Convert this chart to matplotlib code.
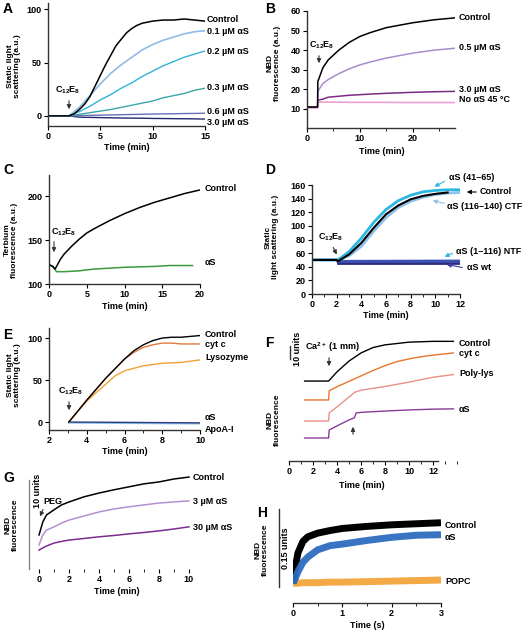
#### Workspace setup ####
import matplotlib
matplotlib.use("Agg")
import matplotlib.pyplot as plt
from matplotlib.patches import FancyArrowPatch
from matplotlib.lines import Line2D
from matplotlib.ticker import MultipleLocator

plt.rcParams["font.family"] = ["Liberation Sans", "DejaVu Sans"]
plt.rcParams["font.weight"] = "bold"
plt.rcParams["font.size"] = 6.5
plt.rcParams["mathtext.fontset"] = "custom"
plt.rcParams["mathtext.rm"] = "Liberation Sans:bold"
plt.rcParams["mathtext.bf"] = "Liberation Sans:bold"
plt.rcParams["mathtext.it"] = "Liberation Sans:bold"
plt.rcParams["mathtext.default"] = "bf"

#### Data ####
# A: static light scattering vs time, aS titration
a_t_ctrl = [0, 2, 2.5, 3, 3.5, 4, 4.5, 5, 5.5, 6, 6.5, 7, 7.5, 8, 8.5, 9, 10, 11, 12, 13, 14, 15]
a_control = [0, 0, 2, 6, 11, 18, 28, 38, 48, 57, 66, 72, 78, 82, 85, 87, 89, 90, 90, 91, 90, 89]
a_t = [0, 2, 3, 4, 5, 6, 7, 8, 9, 10, 11, 12, 13, 14, 15]
a_01 = [0, 0, 8, 19, 30, 40, 48, 55, 62, 67, 71, 74, 77, 79, 80]
a_02 = [0, 0, 4, 9, 15, 20, 26, 31, 37, 42, 47, 51, 55, 58, 61]
a_03 = [0, 0, 1.5, 3, 4.5, 6, 8, 10, 12, 14, 17, 19, 21, 24, 26]
a_06 = [0, 0, 0.3, 0.5, 0.7, 0.9, 1.1, 1.3, 1.5, 1.7, 1.9, 2.0, 2.2, 2.3, 2.5]
a_30 = [0, 0, -1.2, -1.4, -1.6, -1.8, -2.0, -2.1, -2.2, -2.4, -2.5, -2.6, -2.7, -2.8, -3.0]

# B: NBD fluorescence
b_t = [0, 2, 2.05, 3, 4, 6, 8, 10, 12, 15, 18, 20, 24, 28]
b_control = [11, 11, 24, 31, 35, 40, 44, 47, 49, 51.5, 53, 54, 55.5, 56.5]
b_05 = [11, 11, 19, 23, 25, 28, 30.5, 32.5, 34, 36, 37.5, 38.5, 40, 41]
b_30 = [11, 11, 14.5, 15, 16, 16.5, 17, 17.3, 17.6, 18, 18.3, 18.5, 18.8, 19]
b_noas = [10.5, 10.5, 13.5, 13.5, 13.5, 13.5, 13.4, 13.4, 13.4, 13.4, 13.3, 13.3, 13.3, 13.3]

# C: terbium fluorescence
c_t_ctrl = [0, 0.5, 0.8, 1, 1.5, 2, 3, 4, 5, 6, 8, 10, 12, 14, 16, 18, 20]
c_control = [122, 120, 117, 120, 128, 134, 143, 151, 158, 163, 172, 180, 187, 193, 198, 203, 207]
c_t_as = [0, 0.5, 1, 2, 4, 6, 8, 10, 12, 14, 16, 19]
c_as = [122, 120, 114, 114, 115, 117, 118, 119, 119.5, 120, 121, 121]

# D: static light scattering, aS fragments
d_t = [0, 2, 2.1, 3, 4, 5, 6, 7, 8, 9, 10, 11, 12]
d_41_65 = [50, 50, 50, 62, 82, 105, 124, 137, 145, 150, 152, 153, 153]
d_ctf = [50, 50, 50, 56, 70, 92, 112, 127, 136, 142, 146, 148, 149]
d_t_ctrl = [0, 2, 2.1, 3, 4, 5, 6, 7, 8, 9, 10, 11]
d_control = [50, 50, 48, 58, 75, 97, 117, 130, 139, 144, 147, 149]
d_t_flat = [2.1, 12]
d_ntf = [48, 48.5]
d_wt = [46, 46]

# E: static light scattering, other proteins
e_t_ctrl = [3.05, 4, 5, 6, 6.5, 7, 7.5, 8, 8.5, 9, 9.5, 10]
e_control = [0, 26, 52, 75, 85, 92, 97, 100, 101, 101, 102, 103]
e_cytc = [0, 26, 52, 75, 83, 89, 92, 94, 94, 93, 93, 93]
e_t_lys = [3.05, 4, 5, 5.5, 6, 7, 8, 9, 10]
e_lys = [0, 25, 45, 55, 61, 67, 70, 71, 74]
e_t_flat = [3.05, 10]
e_as = [0, -1]
e_apoa = [-1, -2]

# F: NBD fluorescence, Ca2+ triggered (offset traces, units)
f_t_ctrl = [1.3, 3.3, 4, 5, 6, 7, 8, 9, 10, 12, 13.7]
f_control = [29.6, 29.6, 33, 37, 40, 42, 43, 43.5, 44, 44.3, 44.3]
f_t_cytc = [1.3, 3.3, 3.35, 4, 5, 6, 7, 8, 9, 10, 11, 12, 13.7]
f_cytc = [22.6, 22.6, 26, 27.5, 29.5, 31.5, 33.5, 35.3, 36.8, 37.8, 38.6, 39.2, 40]
f_t_plys = [1.3, 3.3, 3.35, 4, 5, 5.5, 6, 8, 10, 12, 13.7]
f_plys = [14.8, 14.8, 17.8, 20, 23.7, 25.5, 26.2, 27.6, 29.2, 31, 32]
f_t_as = [1.3, 3.3, 3.35, 4, 5, 5.45, 5.6, 6, 8, 10, 12, 13.7]
f_as = [8.5, 8.5, 11.5, 13, 15.2, 16, 17.8, 18, 18.5, 18.9, 19.2, 19.3]

# G: NBD fluorescence, PEG triggered
g_t = [0, 0.25, 0.5, 1, 1.5, 2, 3, 4, 5, 6, 7, 8, 9, 10]
g_control = [12.6, 17.4, 20, 21.9, 23.7, 24.8, 26.7, 28.1, 29.3, 30.4, 31.5, 32.2, 33.3, 34]
g_3 = [8.9, 12.6, 14.4, 15.6, 17, 18.1, 19.6, 21.1, 22.2, 23, 23.7, 24.4, 24.8, 25.2]
g_30 = [7, 7.8, 8.5, 9.6, 10.2, 10.7, 11.3, 11.9, 12.4, 13, 13.5, 14.1, 14.8, 15.6]

# H: NBD fluorescence, stopped flow (s)
h_t = [0, 0.05, 0.1, 0.2, 0.3, 0.5, 0.75, 1, 1.5, 2, 2.5, 3]
h_control = [0.038, 0.07, 0.096, 0.118, 0.127, 0.134, 0.139, 0.143, 0.147, 0.15, 0.152, 0.154]
h_as = [0.038, 0.048, 0.06, 0.078, 0.088, 0.102, 0.11, 0.113, 0.12, 0.126, 0.13, 0.131]
h_popc = [0.038, 0.038, 0.038, 0.039, 0.039, 0.039, 0.040, 0.040, 0.041, 0.042, 0.043, 0.044]

#### Figure helpers (pixel layout, origin top-left) ####
W, H = 524, 631
fig = plt.figure(figsize=(W / 100, H / 100), dpi=100)


def px_axes(x0, x1, y0, y1):
    ax = fig.add_axes([x0 / W, 1 - y1 / H, (x1 - x0) / W, (y1 - y0) / H])
    for side in ("top", "right"):
        ax.spines[side].set_visible(False)
    for side in ("left", "bottom"):
        ax.spines[side].set_linewidth(1.0)
        ax.spines[side].set_color("#333333")
    ax.tick_params(direction="out", length=3, width=0.8, pad=1.5, labelsize=6.5)
    ax.tick_params(which="minor", length=2, width=0.6)
    ax.patch.set_alpha(0)
    return ax


def ftext(x, y, s, **kw):
    kw.setdefault("va", "center")
    kw.setdefault("ha", "left")
    fig.text(x / W, 1 - y / H, s, **kw)


def arrow(x0, y0, x1, y1, color="#333333"):
    fig.add_artist(FancyArrowPatch((x0 / W, 1 - y0 / H), (x1 / W, 1 - y1 / H),
                                   transform=fig.transFigure, arrowstyle="-|>",
                                   mutation_scale=6, lw=0.8, color=color))


def vbar(x, y0, y1, color="#333333", lw=1.0):
    fig.add_artist(Line2D([x / W, x / W], [1 - y0 / H, 1 - y1 / H],
                          transform=fig.transFigure, color=color, lw=lw))


def ylabel(x, y, s):
    ftext(x, y, s, rotation=90, ha="center", linespacing=1.15, fontsize=6)


C12E8 = "C$_{12}$E$_{8}$"

#### Panel A ####
ax = px_axes(48, 205, 3, 126)
ax.plot(a_t, a_30, color="#232a6e", lw=1)
ax.plot(a_t, a_06, color="#6670b4", lw=1)
ax.plot(a_t, a_03, color="#3aa6a6", lw=1)
ax.plot(a_t, a_02, color="#2fb3d8", lw=1)
ax.plot(a_t, a_01, color="#8dbbe6", lw=1.2)
ax.plot(a_t_ctrl, a_control, color="black", lw=1.1)
ax.set_xlim(0, 15)
ax.set_ylim(-9.5, 106)
ax.set_xticks([0, 5, 10, 15])
ax.set_yticks([0, 50, 100])
ftext(3, 9, "A", fontsize=10)
ylabel(14, 66, "Static light\nscattering (a.u.)")
ftext(127, 148, "Time (min)", ha="center")
ftext(55, 90, C12E8)
arrow(69, 98, 69, 112)
for y, s in [(20, "Control"), (31, "0.1 µM αS"), (52, "0.2 µM αS"),
             (88, "0.3 µM αS"), (112, "0.6 µM αS"), (122, "3.0 µM αS")]:
    ftext(207, y, s)

#### Panel B ####
ax = px_axes(307, 455, 11, 128)
ax.plot(b_t, b_noas, color="#eaa2d4", lw=1.2)
ax.plot(b_t, b_30, color="#7b2c82", lw=1.1)
ax.plot(b_t, b_05, color="#a98ccc", lw=1.1)
ax.plot(b_t, b_control, color="black", lw=1.1)
ax.set_xlim(0, 28)
ax.set_ylim(0.3, 60)
ax.set_xticks([0, 10, 20])
ax.xaxis.set_minor_locator(MultipleLocator(5))
ax.set_yticks([10, 20, 30, 40, 50, 60])
ftext(265, 9, "B", fontsize=10)
ylabel(274, 63, "NBD\nfluorescence (a.u.)")
ftext(382, 152, "Time (min)", ha="center")
ftext(309, 45, C12E8)
arrow(319, 53, 319, 66)
for y, s in [(17, "Control"), (48, "0.5 µM αS"), (90, "3.0 µM αS"), (100, "No αS 45 °C")]:
    ftext(459, y, s)

#### Panel C ####
ax = px_axes(49, 200, 175, 284)
ax.plot(c_t_as, c_as, color="#3c9a3c", lw=1.1)
ax.plot(c_t_ctrl, c_control, color="black", lw=1.1)
ax.set_xlim(0, 20)
ax.set_ylim(100, 224)
ax.set_xticks([0, 5, 10, 15, 20])
ax.set_yticks([100, 150, 200])
ftext(3, 170, "C", fontsize=10)
ylabel(11, 240, "Terbium\nfluorescence (a.u.)")
ftext(125, 307, "Time (min)", ha="center")
ftext(51, 232, C12E8)
arrow(54, 239, 54, 255)
ftext(205, 189, "Control")
ftext(205, 263, "αS")

#### Panel D ####
ax = px_axes(312, 460, 185, 294)
ax.plot(d_t_flat, d_wt, color="#2a2c82", lw=2)
ax.plot(d_t_flat, d_ntf, color="#3a52b4", lw=2)
ax.plot(d_t, d_ctf, color="#92c2ea", lw=2)
ax.plot(d_t, d_41_65, color="#2cb6e2", lw=2)
ax.plot(d_t_ctrl, d_control, color="black", lw=1.5)
ax.set_xlim(0, 12)
ax.set_ylim(0, 160)
ax.set_xticks([0, 2, 4, 6, 8, 10, 12])
ax.xaxis.set_minor_locator(MultipleLocator(1))
ax.set_yticks(range(0, 161, 20))
ftext(265, 170, "D", fontsize=10)
ylabel(272, 237, "Static\nlight scattering (a.u.)")
ftext(386, 316, "Time (min)", ha="center")
ftext(318, 237, C12E8)
arrow(332, 245, 338, 257)
ftext(449, 177, "αS (41–65)")
arrow(447, 180, 432, 188, "#2cb6e2")
ftext(480, 192, "Control")
arrow(479, 192, 464, 192, "black")
ftext(447, 206, "αS (116–140) CTF")
arrow(447, 204, 430, 200, "#92c2ea")
ftext(456, 252, "αS (1–116) NTF")
arrow(455, 252, 442, 258, "#2cb6e2")
ftext(467, 268, "αS wt")
arrow(465, 268, 444, 264, "#3a3aa0")

#### Panel E ####
ax = px_axes(49, 200, 328, 430)
ax.plot(e_t_flat, e_apoa, color="#8cc4e6", lw=1.2)
ax.plot(e_t_flat, e_as, color="#2f3a82", lw=1.0)
ax.plot(e_t_lys, e_lys, color="#f2a234", lw=1.0)
ax.plot(e_t_ctrl, e_cytc, color="#e4783e", lw=1.0)
ax.plot(e_t_ctrl, e_control, color="black", lw=1.0)
ax.set_xlim(2, 10)
ax.set_ylim(-9.5, 112)
ax.set_xticks([2, 4, 6, 8, 10])
ax.xaxis.set_minor_locator(MultipleLocator(1))
ax.set_yticks([0, 50, 100])
ftext(3, 335, "E", fontsize=10)
ylabel(14, 375, "Static light\nscattering (a.u.)")
ftext(125, 452, "Time (min)", ha="center")
ftext(58, 391, C12E8)
arrow(69, 399, 69, 413)
for y, s in [(334, "Control"), (344, "cyt c"), (357, "Lysozyme"), (418, "αS"), (429, "ApoA-I")]:
    ftext(205, y, s)

#### Panel F ####
ax = px_axes(289, 457, 330, 461)
ax.plot(f_t_as, f_as, color="#8a3a9c", lw=1.0)
ax.plot(f_t_plys, f_plys, color="#ea8e88", lw=1.0)
ax.plot(f_t_cytc, f_cytc, color="#e8762c", lw=1.0)
ax.plot(f_t_ctrl, f_control, color="black", lw=1.0)
ax.set_xlim(0, 14)
ax.set_ylim(0, 48.5)
ax.spines["left"].set_visible(False)
ax.spines["bottom"].set_bounds(0, 12.4)
ax.set_yticks([])
ax.set_xticks([0, 2, 4, 6, 8, 10, 12])
ax.xaxis.set_minor_locator(MultipleLocator(1))
ftext(265, 343, "F", fontsize=10)
ylabel(274, 420, "NBD\nfluorescence")
ftext(362, 486, "Time (min)", ha="center")
ftext(305, 347, "Ca$^{2+}$ (1 mm)")
arrow(329, 355, 329, 369)
arrow(353, 437, 353, 424)
vbar(290, 346, 359)
ftext(297, 349, "10 units", rotation=90, ha="center")
for y, s in [(343, "Control"), (353, "cyt c"), (374, "Poly-lys"), (410, "αS")]:
    ftext(459, y, s)

#### Panel G ####
ax = px_axes(29, 190, 476, 569)
ax.plot(g_t, g_30, color="#7b2c8c", lw=1.1)
ax.plot(g_t, g_3, color="#b490d2", lw=1.1)
ax.plot(g_t, g_control, color="black", lw=1.1)
ax.set_xlim(-0.67, 10.07)
ax.set_ylim(0, 34.4)
ax.spines["bottom"].set_visible(False)
ax.spines["left"].set_bounds(0, 33)
ax.spines["left"].set_color("#888888")
ax.set_yticks([])
ax.tick_params(axis="y", length=0)
ax.set_xticks([0, 2, 4, 6, 8, 10])
ax.xaxis.set_minor_locator(MultipleLocator(1))
ftext(3, 478, "G", fontsize=10)
ylabel(12, 525, "NBD\nfluorescence")
ftext(37, 491, "10 units", rotation=90, ha="center")
ftext(43, 502, "PEG")
arrow(44, 507, 39, 519)
ftext(117, 592, "Time (min)", ha="center")
for y, s in [(477, "Control"), (502, "3 µM αS"), (527, "30 µM αS")]:
    ftext(193, y, s)

#### Panel H ####
ax = px_axes(293, 441, 505, 603)
ax.plot(h_t, h_popc, color="#f2a032", lw=5, alpha=0.9, solid_capstyle="butt")
ax.plot(h_t, h_control, color="black", lw=5, solid_capstyle="butt")
ax.plot(h_t, h_as, color="#2e6cc0", lw=5, alpha=0.95, solid_capstyle="butt")
ax.set_xlim(0, 3)
ax.set_ylim(0, 0.188)
ax.spines["left"].set_visible(False)
ax.set_yticks([])
ax.set_xticks([0, 1, 2, 3])
ax.xaxis.set_minor_locator(MultipleLocator(0.5))
ftext(257, 513, "H", fontsize=10)
ylabel(262, 550, "NBD\nfluorescence")
vbar(279, 509, 587)
ftext(286, 548, "0.15 units", rotation=90, ha="center")
ftext(367, 625, "Time (s)", ha="center")
for y, s in [(526, "Control"), (537, "αS"), (581, "POPC")]:
    ftext(445, y, s)

fig.savefig("out.png", dpi=100)
